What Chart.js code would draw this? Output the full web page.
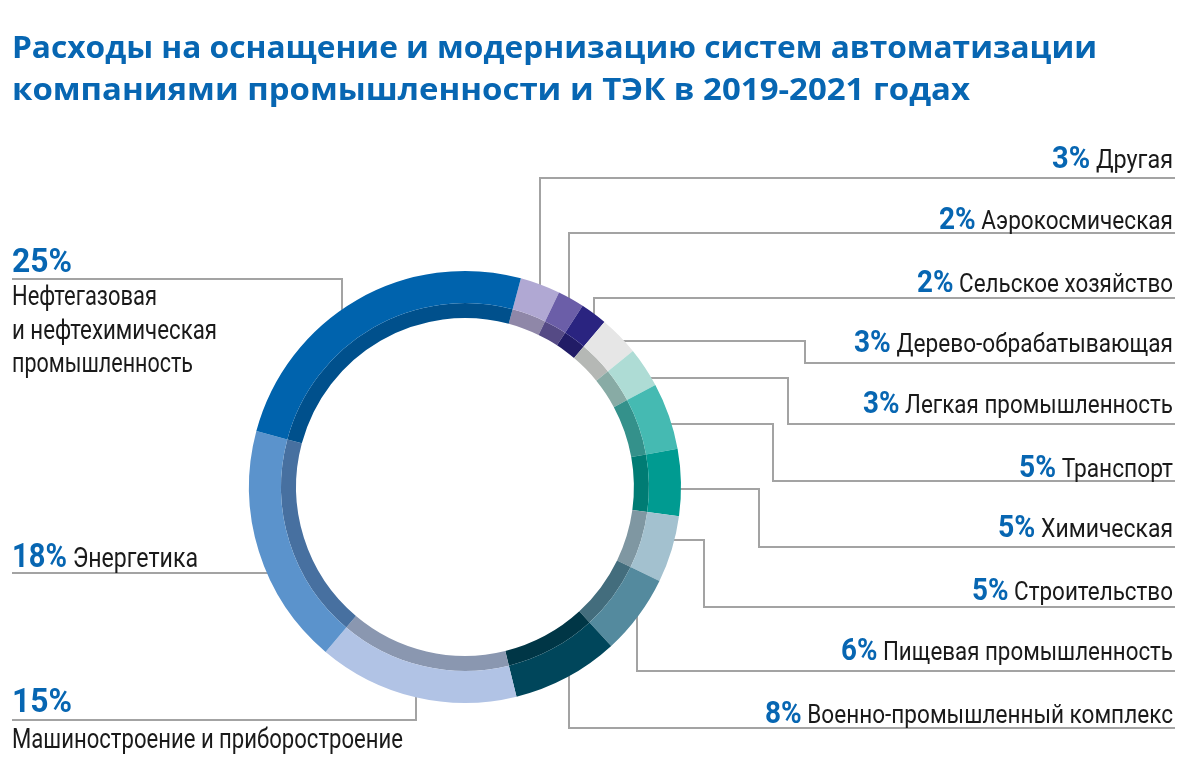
<!DOCTYPE html>
<html><head><meta charset="utf-8">
<script src="https://cdn.jsdelivr.net/npm/chart.js@4.4.1/dist/chart.umd.min.js"></script>
<style>
html,body{margin:0;padding:0;background:#fff;}
#wrap{position:relative;width:1200px;height:757px;overflow:hidden;background:#fff;}
#c{position:absolute;left:0;top:0;}
#txt{position:absolute;left:0;top:0;pointer-events:none;}
</style></head><body>
<div id="wrap"><canvas id="c" width="1200" height="757"></canvas>
<svg id="txt" width="1200" height="757" xmlns="http://www.w3.org/2000/svg"></svg></div>
<script>
// ---------- DATA ----------
const titleLines = [
  'Расходы на оснащение и модернизацию систем автоматизации',
  'компаниями промышленности и ТЭК в 2019-2021 годах'
];
const categories = [
  'Другая', 'Аэрокосмическая', 'Сельское хозяйство', 'Дерево-обрабатывающая',
  'Легкая промышленность', 'Транспорт', 'Химическая', 'Строительство',
  'Пищевая промышленность', 'Военно-промышленный комплекс',
  'Машиностроение и приборостроение', 'Энергетика',
  'Нефтегазовая и нефтехимическая промышленность'
];
const shares = [3, 2, 2, 3, 3, 5, 5, 5, 6, 8, 15, 18, 25];
const outerColors = ['#b0a8d3', '#6b5ea8', '#2a2480', '#e6e6e6', '#aedcd5', '#45bab2',
  '#009b91', '#a3c1cf', '#548a9e', '#00465b', '#b1c3e5', '#5b93cc', '#0063ad'];
const innerColors = ['#8f87a8', '#554a85', '#211c66', '#b5b8b5', '#88aba5', '#34918b',
  '#007c74', '#7f97a2', '#436d7d', '#003646', '#8a97b0', '#4770a0', '#00508c'];
const nameLines = {10: ['Машиностроение и приборостроение'], 12: ['Нефтегазовая', 'и нефтехимическая', 'промышленность']};

// ---------- LAYOUT ----------
const BLUE = '#0766b2';
const LINE = '#a3a3a3';
const rightBase = [168, 229, 292, 352, 413, 477, 537, 600, 660, 723];
const rightWidth = [121, 234, 256, 319, 310, 154, 175, 201, 332, 408];
const RIGHT_X = 1173;

// leader lines: start on the ring edge, then elbows
const leaders = [
  {i:0, from:'up', x:540, pts:[[540,178],[1175,178]]},
  {i:1, from:'up', x:569, pts:[[569,233],[1175,233]]},
  {i:2, from:'up', x:594, pts:[[594,298],[1175,298]]},
  {i:3, from:'right', y:341, pts:[[805,341],[805,363],[1175,363]]},
  {i:4, from:'right', y:378, pts:[[788,378],[788,424],[1175,424]]},
  {i:5, from:'right', y:424, pts:[[773,424],[773,481],[1175,481]]},
  {i:6, from:'right', y:489, pts:[[759,489],[759,547],[1175,547]]},
  {i:7, from:'right', y:540, pts:[[704,540],[704,607],[1175,607]]},
  {i:8, from:'down', x:637, pts:[[637,671],[1175,671]]},
  {i:9, from:'down', x:569, pts:[[569,728],[1175,728]]},
  {i:10, from:'down', x:416, pts:[[416,720],[12,720]]},
  {i:11, from:'left', y:573, pts:[[12,573]]},
  {i:12, from:'up', x:342, pts:[[342,279],[12,279]]}
];

const leaderPlugin = {
  id: 'leaders',
  beforeDatasetsDraw(chart) {
    const arc = chart.getDatasetMeta(0).data[0];
    const cx = arc.x, cy = arc.y, R = arc.outerRadius;
    const ctx = chart.ctx;
    ctx.save();
    ctx.strokeStyle = LINE;
    ctx.lineWidth = 2;
    ctx.lineJoin = 'miter';
    leaders.forEach(L => {
      let sx, sy;
      if (L.from === 'up' || L.from === 'down') {
        const d = Math.sqrt(Math.max(R*R - (L.x-cx)*(L.x-cx), 0));
        sx = L.x; sy = L.from === 'up' ? cy - d + 4 : cy + d - 4;
      } else {
        const d = Math.sqrt(Math.max(R*R - (L.y-cy)*(L.y-cy), 0));
        sy = L.y; sx = L.from === 'right' ? cx + d - 4 : cx - d + 4;
      }
      ctx.beginPath();
      ctx.moveTo(sx, sy);
      L.pts.forEach(p => ctx.lineTo(p[0], p[1]));
      ctx.stroke();
    });
    ctx.restore();
  }
};

new Chart(document.getElementById('c'), {
  type: 'doughnut',
  data: {
    labels: categories,
    datasets: [
      {data: shares, backgroundColor: outerColors, weight: 32, borderWidth: 0, hoverOffset: 0, offset: 0},
      {data: shares, backgroundColor: innerColors, weight: 15, borderWidth: 0, hoverOffset: 0, offset: 0}
    ]
  },
  options: {
    responsive: false,
    animation: false,
    rotation: 15,
    cutout: '78.2%',
    layout: {padding: {left: 249, right: 519, top: 271, bottom: 54}},
    plugins: {legend: {display: false}, tooltip: {enabled: false}},
    events: []
  },
  plugins: [leaderPlugin]
});

// ---------- TEXT (SVG) ----------
const svg = document.getElementById('txt');
const NS = 'http://www.w3.org/2000/svg';
function addText(x, y, parts, width) {
  const t = document.createElementNS(NS, 'text');
  t.setAttribute('x', x); t.setAttribute('y', y);
  if (width) { t.setAttribute('textLength', width); t.setAttribute('lengthAdjust', 'spacingAndGlyphs'); }
  parts.forEach(p => {
    const s = document.createElementNS(NS, 'tspan');
    s.textContent = p.t;
    s.setAttribute('font-family', p.f || 'Roboto, "DejaVu Sans", sans-serif');
    s.setAttribute('font-size', p.s);
    s.setAttribute('font-weight', p.w || 400);
    s.setAttribute('fill', p.c || '#1a1a1a');
    t.appendChild(s);
  });
  svg.appendChild(t);
}
const TF = '"Open Sans", "Noto Sans", sans-serif';
addText(12, 58, [{t: titleLines[0], s: 31, w: 700, c: BLUE, f: TF}], 1085);
addText(12, 100, [{t: titleLines[1], s: 31, w: 700, c: BLUE, f: TF}], 958);

for (let i = 0; i < 10; i++) {
  addText(RIGHT_X - rightWidth[i], rightBase[i], [
    {t: shares[i] + '%', s: 31, w: 700, c: BLUE},
    {t: '\u00a0' + categories[i], s: 25, w: 400}
  ], rightWidth[i]);
}
// left side
addText(12, 272, [{t: shares[12] + '%', s: 34, w: 700, c: BLUE}], 60);
const nl = nameLines[12];
const nb = [305, 339, 372], nw = [145, 205, 181];
nl.forEach((ln, k) => addText(12, nb[k], [{t: ln, s: 27, w: 400}], nw[k]));
addText(12, 567, [{t: shares[11] + '%', s: 34, w: 700, c: BLUE}, {t: '\u00a0' + categories[11], s: 27, w: 400}], 186);
addText(12, 712, [{t: shares[10] + '%', s: 34, w: 700, c: BLUE}], 60);
addText(12, 748, [{t: nameLines[10][0], s: 27, w: 400}], 391);
</script>
</body></html>
